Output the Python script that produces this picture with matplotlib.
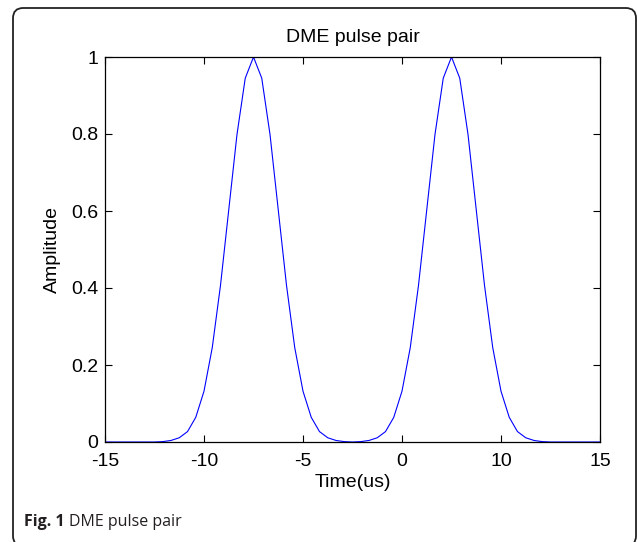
import matplotlib
matplotlib.use("Agg")
import matplotlib.pyplot as plt
from matplotlib.patches import FancyBboxPatch

# Data (time in us, amplitude)
time_us = [-15, -14.5, -14, -13.5, -13, -12.5, -12, -11.5, -11, -10.5,
           -10, -9.5, -9, -8.5, -8, -7.5, -7, -6.5, -6, -5.5,
           -5, -4.5, -4, -3.5, -3, -2.5, -2, -1.5, -1, -0.5,
           0, 0.5, 1, 1.5, 2, 2.5, 3, 3.5, 4, 4.5,
           5, 5.5, 6, 6.5, 7, 7.5, 8, 8.5, 9, 9.5,
           10, 10.5, 11, 11.5, 12, 12.5, 13, 13.5, 14, 14.5, 15]
amplitude = [0, 0, 0, 0, 0, 0, 0, 0.001, 0.004, 0.011,
             0.027, 0.064, 0.132, 0.245, 0.407, 0.603, 0.799, 0.945, 1.0, 0.945,
             0.799, 0.603, 0.407, 0.245, 0.132, 0.064, 0.027, 0.011, 0.004, 0.001,
             0.0, 0.001, 0.004, 0.011, 0.027, 0.064, 0.132, 0.245, 0.407, 0.603,
             0.799, 0.945, 1.0, 0.945, 0.799, 0.603, 0.407, 0.245, 0.132, 0.064,
             0.027, 0.011, 0.004, 0.001, 0, 0, 0, 0, 0, 0, 0]
xtick_positions = [-15, -9, -3, 3, 9, 15]
xtick_labels = ["-15", "-10", "-5", "0", "10", "15"]
ytick_values = [0, 0.2, 0.4, 0.6, 0.8, 1]
ytick_labels = ["0", "0.2", "0.4", "0.6", "0.8", "1"]

plt.rcParams['font.family'] = ['Liberation Sans', 'DejaVu Sans']

W, H = 637, 542
fig = plt.figure(figsize=(W / 100, H / 100), dpi=100)
fig.patch.set_facecolor('white')

# outer rounded frame
frame = FancyBboxPatch((13 / W, 1 - 546 / H), (636 - 13) / W, (546 - 8) / H,
                       boxstyle="round,pad=0,rounding_size=0.016",
                       transform=fig.transFigure, fill=False,
                       edgecolor='#222222', linewidth=1.3, clip_on=False,
                       mutation_aspect=W / H)
fig.patches.append(frame)

ax = fig.add_axes([105 / W, 1 - 442 / H, (600 - 105) / W, (442 - 57) / H])
ax.plot(time_us, amplitude, color=(0, 0, 1), linewidth=0.8)
ax.set_xlim(-15, 15)
ax.set_ylim(0, 1)
ax.set_xticks(xtick_positions)
ax.set_xticklabels(xtick_labels)
ax.set_yticks(ytick_values)
ax.set_yticklabels(ytick_labels)
ax.tick_params(direction='in', length=5, width=0.8, top=True, right=True,
               labelsize=14, colors='black')
ax.tick_params(axis='x', pad=8)
ax.tick_params(axis='y', pad=5)
for s in ax.spines.values():
    s.set_linewidth(0.9)
    s.set_color('black')
ax.set_title("DME pulse pair", fontsize=14, pad=11)
ax.set_xlabel("Time(us)", fontsize=14, labelpad=3)
ax.set_ylabel("Amplitude", fontsize=14, labelpad=7)

fig.text(24 / W, 1 - 522 / H, "Fig. 1", fontsize=11.5, fontweight='bold',
         family=['Open Sans', 'DejaVu Sans'], va='center', ha='left', color='#231f20')
fig.text(69 / W, 1 - 522 / H, "DME pulse pair", fontsize=11.5,
         family=['Open Sans', 'DejaVu Sans'], va='center', ha='left', color='#231f20')

fig.savefig("out.png", dpi=100)
